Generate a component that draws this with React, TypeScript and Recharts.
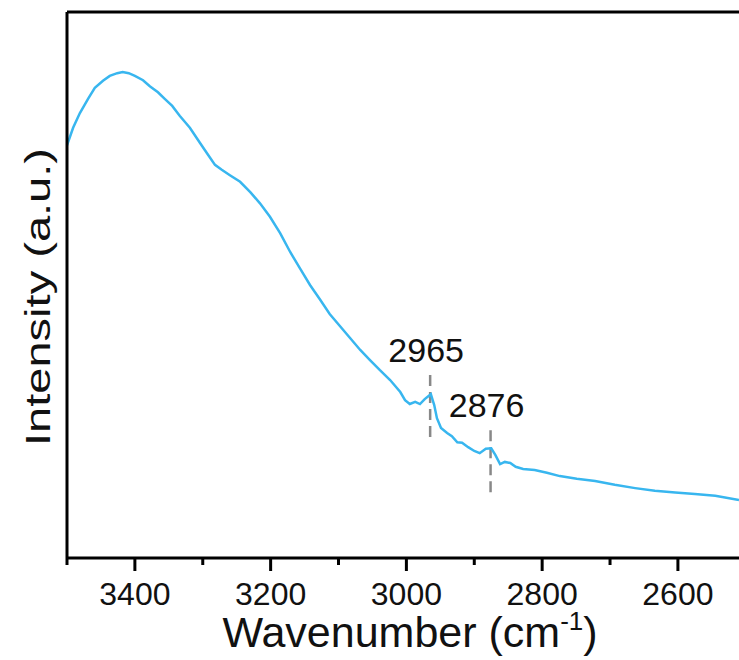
import React from "react";
import { LineChart, Line, XAxis, YAxis, ReferenceLine, Label } from "recharts";

const wavenumbers = [
  3500, 3491, 3481, 3469, 3459, 3447, 3437, 3426, 3418, 3409, 3400, 3388, 3378, 3366, 3356, 3345,
  3334, 3319, 3304, 3292, 3282, 3272, 3260, 3245, 3230, 3216, 3201, 3186, 3171, 3157, 3142, 3127,
  3113, 3098, 3083, 3068, 3054, 3039, 3024, 3009, 3002, 2995, 2987, 2980, 2973, 2964, 2959, 2955,
  2949, 2940, 2933, 2925, 2918, 2909, 2900, 2892, 2883, 2875, 2869, 2862, 2855, 2847, 2839, 2828,
  2811, 2793, 2774, 2749, 2722, 2693, 2663, 2634, 2604, 2575, 2545, 2510,
];
const intensity = [
  75.6, 78.8, 81.5, 84.1, 86.1, 87.4, 88.3, 88.8, 89.0, 88.8, 88.3, 87.5, 86.4, 85.3, 84.1, 82.8,
  81.0, 78.8, 76.0, 73.8, 72.0, 71.1, 70.1, 68.9, 67.0, 65.0, 62.5, 59.5, 56.0, 53.1, 50.0, 47.3,
  44.7, 42.5, 40.3, 38.1, 36.3, 34.4, 32.6, 30.4, 28.9, 28.2, 28.6, 28.2, 29.1, 30.0, 28.0, 25.6,
  23.8, 22.9, 22.3, 21.2, 21.1, 20.3, 19.6, 19.2, 20.0, 20.1, 18.9, 17.2, 17.6, 17.4, 16.7, 16.3,
  16.1, 15.6, 15.0, 14.5, 14.1, 13.4, 12.8, 12.3, 12.0, 11.7, 11.4, 10.6,
];
const tickValues = [3500, 3400, 3300, 3200, 3100, 3000, 2900, 2800, 2700, 2600];
const majorTicks = [3400, 3200, 3000, 2800, 2600];
const peaks = [
  { label: "2965", x: 2965, top: 33.5, bottom: 21.6 },
  { label: "2876", x: 2876, top: 23.4, bottom: 11.5 },
];

const data = wavenumbers.map((w, i) => ({ w, v: intensity[i] }));
const FONT = "'Liberation Sans', Arial, sans-serif";

function Tick(props: any) {
  const { x, y, payload } = props;
  const major = majorTicks.includes(payload.value);
  return (
    <g>
      <line x1={x} x2={x} y1={y} y2={y + (major ? 13 : 7)} stroke="#000" strokeWidth={3} />
      {major && (
        <text x={x} y={y + 47} textAnchor="middle" fontSize={32} fontFamily={FONT} fill="#111">
          {payload.value}
        </text>
      )}
    </g>
  );
}

export default function App() {
  return (
    <div style={{ position: "absolute", left: 0, top: 0, background: "#fff" }}>
      <LineChart width={739} height={660} data={data} margin={{ top: 12, right: 0, left: 7, bottom: 42 }}>
        <XAxis
          dataKey="w"
          type="number"
          domain={[2510, 3500]}
          reversed
          allowDataOverflow
          ticks={tickValues}
          interval={0}
          tickSize={0}
          tickMargin={0}
          tickLine={false}
          tick={<Tick />}
          height={60}
          axisLine={{ stroke: "#000", strokeWidth: 3 }}
        >
          <Label
            content={(p: any) => {
              const vb = p.viewBox;
              return (
                <text x={vb.x + 343} y={vb.y + 89} textAnchor="middle" fontSize={43} fontFamily={FONT} fill="#111">
                  <tspan>Wavenumber (cm</tspan>
                  <tspan dy={-17} fontSize={26}>-1</tspan>
                  <tspan dy={17}>)</tspan>
                </text>
              );
            }}
          />
        </XAxis>
        <YAxis
          type="number"
          domain={[0, 100]}
          width={60}
          tick={false}
          tickLine={false}
          axisLine={{ stroke: "#000", strokeWidth: 3 }}
          label={(p: any) => {
            const vb = p.viewBox;
            const cx = vb.x + vb.width - 17;
            const cy = vb.y + vb.height / 2 + 12;
            return (
              <text
                x={cx}
                y={cy}
                textAnchor="middle"
                fontSize={35}
                fontFamily={FONT}
                fill="#111"
                textLength={298}
                lengthAdjust="spacingAndGlyphs"
                transform={`rotate(-90, ${cx}, ${cy})`}
              >
                Intensity (a.u.)
              </text>
            );
          }}
        />
        <ReferenceLine y={100} stroke="#000" strokeWidth={3} />
        {peaks.map((pk) => (
          <ReferenceLine
            key={pk.label}
            segment={[
              { x: pk.x, y: pk.top },
              { x: pk.x, y: pk.bottom },
            ]}
            stroke="#888"
            strokeWidth={2.5}
            strokeDasharray="11 6"
            label={(p: any) => {
              const vb = p.viewBox;
              return (
                <text x={vb.x - 4} y={vb.y - 13} textAnchor="middle" fontSize={34} fontFamily={FONT} fill="#111">
                  {pk.label}
                </text>
              );
            }}
          />
        ))}
        <Line
          dataKey="v"
          type="linear"
          stroke="#38b6ef"
          strokeWidth={2.5}
          dot={false}
          isAnimationActive={false}
        />
      </LineChart>
    </div>
  );
}
